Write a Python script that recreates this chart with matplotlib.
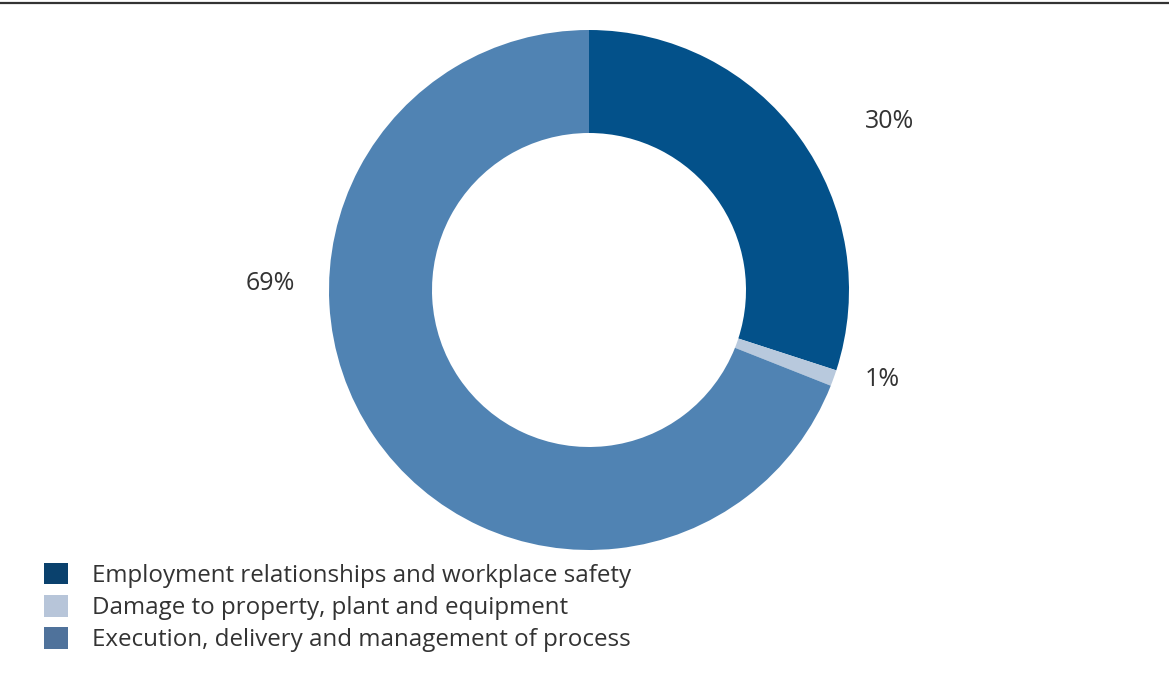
import matplotlib
matplotlib.use("Agg")
import matplotlib.pyplot as plt
from matplotlib.patches import Patch
from matplotlib.lines import Line2D

plt.rcParams['font.family'] = ['Open Sans', 'DejaVu Sans']

# Share of operational risk events by category (%)
categories = ["Employment relationships and workplace safety",
              "Damage to property, plant and equipment",
              "Execution, delivery and management of process"]
shares = [30, 1, 69]
pie_colors = ["#03518A", "#B8C9DD", "#5083B3"]
legend_colors = ["#0A416D", "#B7C5D9", "#4F729B"]
label_pos = [(890, 121), (882, 379), (270, 284)]

W, H = 1169, 675
fig = plt.figure(figsize=(W / 100, H / 100), dpi=100)
ax = fig.add_axes([0, 0, 1, 1])

# y axis runs downward, so the start angle and direction are mirrored
wedges, _ = ax.pie(shares, colors=pie_colors, startangle=-90, counterclock=True,
                   center=(589, 290), radius=260,
                   wedgeprops=dict(width=103, linewidth=0))
ax.set_xlim(0, W)
ax.set_ylim(H, 0)
ax.set_aspect("equal")
ax.axis("off")

for val, (x, y) in zip(shares, label_pos):
    ax.text(x, y, f"{val}%", fontsize=18, color="#333333",
            ha="center", va="center")

# rule across the top
fig.add_artist(Line2D([0, 1], [1 - 2.5 / H, 1 - 2.5 / H], color="#333333",
                      lw=1.6, transform=fig.transFigure))

handles = [Patch(facecolor=c, edgecolor="none") for c in legend_colors]
fig.legend(handles, categories, loc="upper left",
           bbox_to_anchor=(34 / W, 1 - 553 / H), frameon=False,
           fontsize=17.4, labelcolor="#333333", handlelength=1.0,
           handleheight=1.0, handletextpad=1.0, labelspacing=0.3,
           borderaxespad=0)

fig.savefig("out.png", dpi=100)
